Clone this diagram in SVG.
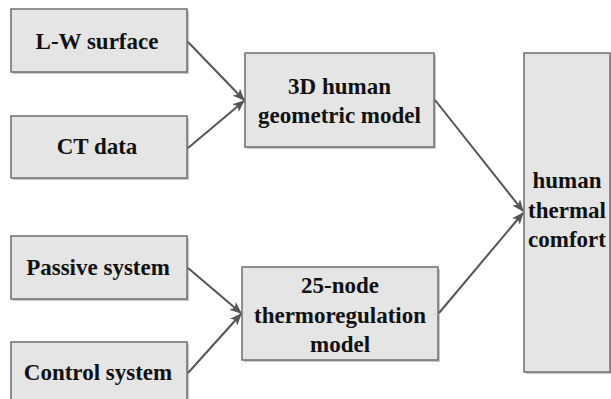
<svg xmlns="http://www.w3.org/2000/svg" width="611" height="399" viewBox="0 0 611 399">
<style>
.sh{fill:#c8c8c8;}
.bx{fill:#e5e5e5;stroke:#6e6e6e;stroke-width:1.5;}
.t{font-family:'Liberation Serif','Times New Roman',serif;font-weight:bold;font-size:23px;fill:#111;text-anchor:middle;}
.c{stroke:#555;stroke-width:2;fill:none;marker-end:url(#ah);}
</style>
<defs>
<marker id="ah" markerWidth="12" markerHeight="10" refX="11" refY="5" orient="auto" markerUnits="userSpaceOnUse">
<path d="M0,0 L12,5 L0,10 L3,5 Z" fill="#555"/>
</marker>
</defs>
<rect width="611" height="399" fill="#fff"/>
<g id="lw">
<rect class="sh" x="13" y="11" width="176" height="63"/>
<rect class="bx" x="11" y="9" width="176" height="63"/>
<text class="t" x="97" y="49">L-W surface</text>
</g>
<g id="ct">
<rect class="sh" x="13" y="118" width="176" height="62"/>
<rect class="bx" x="11" y="116" width="176" height="62"/>
<text class="t" x="97" y="154">CT data</text>
</g>
<g id="geo">
<rect class="sh" x="247" y="55" width="189" height="94"/>
<rect class="bx" x="245" y="53" width="189" height="94"/>
<text class="t" x="339.5" y="94">3D human</text>
<text class="t" x="339.5" y="123">geometric model</text>
</g>
<g id="passive">
<rect class="sh" x="13" y="238" width="176" height="63"/>
<rect class="bx" x="11" y="236" width="176" height="63"/>
<text class="t" x="98" y="275">Passive system</text>
</g>
<g id="control">
<rect class="sh" x="13" y="344" width="176" height="63"/>
<rect class="bx" x="11" y="342" width="176" height="63"/>
<text class="t" x="98" y="380">Control system</text>
</g>
<g id="thermo">
<rect class="sh" x="244" y="269" width="196" height="93"/>
<rect class="bx" x="242" y="267" width="196" height="93"/>
<text class="t" x="340" y="293">25-node</text>
<text class="t" x="340" y="323">thermoregulation</text>
<text class="t" x="340" y="352">model</text>
</g>
<g id="comfort">
<rect class="sh" x="526" y="55" width="86" height="319"/>
<rect class="bx" x="524" y="53" width="86" height="319"/>
<text class="t" x="567" y="188">human</text>
<text class="t" x="567" y="218">thermal</text>
<text class="t" x="567" y="247">comfort</text>
</g>
<g id="connectors">
<line class="c" x1="188" y1="42" x2="244" y2="100"/>
<line class="c" x1="188" y1="148" x2="244" y2="101"/>
<line class="c" x1="188" y1="268" x2="241" y2="313"/>
<line class="c" x1="188" y1="373" x2="241" y2="314"/>
<line class="c" x1="435" y1="100" x2="523" y2="211"/>
<line class="c" x1="439" y1="313" x2="523" y2="213"/>
</g>
</svg>
